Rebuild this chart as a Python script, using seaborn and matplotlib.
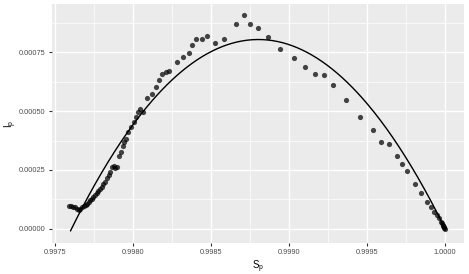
import numpy as np
import pandas as pd
import matplotlib
matplotlib.use("Agg")
import matplotlib.pyplot as plt
import matplotlib.ticker as mticker
import seaborn as sns

s_p = [0.99759, 0.997603, 0.997615, 0.997628, 0.997641, 0.997654, 0.997662,
       0.997673, 0.997686, 0.997699, 0.997707, 0.997716, 0.997724, 0.997735,
       0.997745, 0.997756, 0.997767, 0.997777, 0.997788, 0.997799, 0.997809,
       0.99782, 0.997831, 0.997842, 0.997852, 0.997865, 0.997874, 0.997884,
       0.997899, 0.997912, 0.997923, 0.997934, 0.997942, 0.997953, 0.997966,
       0.997985, 0.998004, 0.998017, 0.99803, 0.998045, 0.998062, 0.998087,
       0.998119, 0.998149, 0.998164, 0.998187, 0.998209, 0.998232, 0.998282,
       0.998318, 0.99836, 0.998376, 0.998405, 0.998442, 0.998476, 0.998525,
       0.998585, 0.998658, 0.998711, 0.99875, 0.998802, 0.998863, 0.998941,
       0.999029, 0.999103, 0.999166, 0.999225, 0.999279, 0.999366, 0.999454,
       0.999535, 0.999588, 0.999638, 0.999689, 0.999723, 0.999753, 0.999808,
       0.999847, 0.999885, 0.999909, 0.999928, 0.999945, 0.999958, 0.999971,
       0.999977, 0.999984, 0.999988, 0.999992, 0.999996, 1.0]
i_p = [0.000098, 0.0000965, 0.0000936, 0.000091, 0.0000825, 0.0000795, 0.000085,
       0.0000936, 0.000098, 0.000101, 0.000105, 0.000115, 0.000122, 0.000128,
       0.000134, 0.000143, 0.000150, 0.000162, 0.000170, 0.000179, 0.000190,
       0.000200, 0.000214, 0.000228, 0.000242, 0.000264, 0.000268, 0.000257,
       0.000264, 0.000310, 0.000327, 0.000353, 0.000367, 0.000381, 0.000412,
       0.000434, 0.000455, 0.000476, 0.000497, 0.000509, 0.000495, 0.000554,
       0.000573, 0.000601, 0.000632, 0.000658, 0.000668, 0.000672, 0.000707,
       0.000729, 0.000748, 0.000781, 0.000805, 0.000808, 0.000818, 0.000788,
       0.000807, 0.000869, 0.000909, 0.000872, 0.000852, 0.000815, 0.000764,
       0.000727, 0.000686, 0.000659, 0.000654, 0.000610, 0.000549, 0.000475,
       0.000420, 0.000370, 0.000359, 0.000308, 0.000274, 0.000245, 0.000191,
       0.000153, 0.000115, 0.000092, 0.000072, 0.000058, 0.000044, 0.000030,
       0.000024, 0.000017, 0.000012, 0.0000085, 0.000004, 0.0]

# fitted parabola I = a * (S - root) * (1 - S)
fit_a = 561.0
fit_root = 0.997605

df = pd.DataFrame({"S": s_p, "I": i_p})
s_line = np.linspace(0.997598, max(s_p), 300)
line_df = pd.DataFrame({"S": s_line, "I": fit_a * (s_line - fit_root) * (1 - s_line)})

sns.set_theme(style="darkgrid", rc={
    "axes.facecolor": "#EBEBEB",
    "grid.color": "white",
    "axes.edgecolor": "none",
})
plt.rcParams["font.family"] = ["Liberation Sans", "DejaVu Sans"]
plt.rcParams["mathtext.fontset"] = "custom"
plt.rcParams["mathtext.rm"] = "Liberation Sans"

fig, ax = plt.subplots(figsize=(4.69, 2.74), dpi=100)
fig.subplots_adjust(left=0.111, right=0.989, top=0.985, bottom=0.113)

sns.scatterplot(data=df, x="S", y="I", ax=ax, color="black", alpha=0.72,
                s=14, linewidth=0, zorder=3)
sns.lineplot(data=line_df, x="S", y="I", ax=ax, color="black", lw=1.0, zorder=4)

ax.set_xlim(0.99748, 1.00012)
ax.set_ylim(-0.0000608, 0.000955)
ax.xaxis.set_major_locator(mticker.FixedLocator([0.9975, 0.998, 0.9985, 0.999, 0.9995, 1.0]))
ax.xaxis.set_minor_locator(mticker.FixedLocator([0.99775, 0.99825, 0.99875, 0.99925, 0.99975]))
ax.xaxis.set_major_formatter(mticker.FormatStrFormatter("%.4f"))
ax.yaxis.set_major_locator(mticker.FixedLocator([0, 0.00025, 0.0005, 0.00075]))
ax.yaxis.set_minor_locator(mticker.FixedLocator([0.000125, 0.000375, 0.000625, 0.000875]))
ax.yaxis.set_major_formatter(mticker.FormatStrFormatter("%.5f"))

ax.grid(which="major", color="white", lw=1.0)
ax.grid(which="minor", color="white", lw=0.5)
ax.tick_params(which="major", length=2.5, width=0.8, color="#333333",
               labelsize=5.3, labelcolor="#4D4D4D", pad=2, left=True, bottom=True)
ax.tick_params(which="minor", length=0)
for sp in ax.spines.values():
    sp.set_visible(False)

ax.set_xlabel(r"S$_\mathregular{p}$", fontsize=7, labelpad=2, color="black")
ax.set_ylabel(r"I$_\mathregular{p}$", fontsize=7, color="black")
ax.yaxis.set_label_coords(-0.08, 0.5)

fig.savefig("out.png", dpi=100)
